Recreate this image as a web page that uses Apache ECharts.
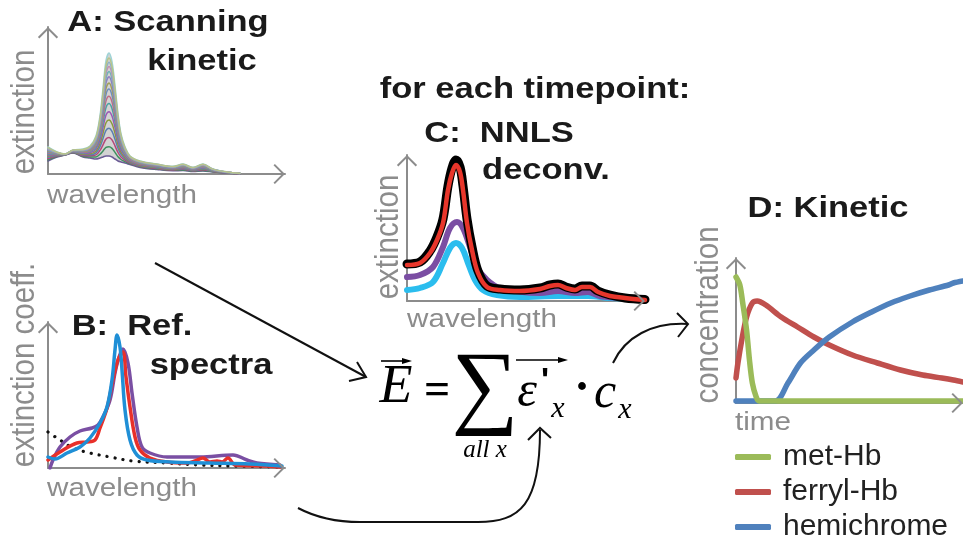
<!DOCTYPE html>
<html><head><meta charset="utf-8">
<script src="https://cdn.jsdelivr.net/npm/echarts@6/dist/echarts.min.js"></script>
<style>html,body{margin:0;padding:0;background:#fff}#c{width:963px;height:543px}</style>
</head><body><div id="c"></div>
<script>
// ---------- A: scanning kinetic (wavelength nm, extinction) ----------
const wlA = [300,318,334,350,370,384,396,404,410,416,422,428,434,440,446,454,464,484,518,550,570,590,610,630,658,684];
const scanA = [
 [13,17,19,21,17,16,15,16,17,18,18,17,15,13,12,11,9.5,6.6,4.5,3.3,3.5,2.5,3,2,1,0],
 [14.3,17.5,19.1,21.3,17.7,17.1,17.1,19.8,23.1,26.6,27.3,25.6,21.6,17.2,14.5,12.4,10.3,7.2,5.0,3.7,4.1,2.9,3.6,2.3,1.1,0.1],
 [15.5,17.9,19.2,21.5,18.4,18.2,19.1,23.6,29.2,35.1,36.5,34.1,28.1,21.5,17.0,13.9,11.0,7.8,5.5,4.1,4.7,3.2,4.3,2.5,1.2,0.1],
 [16.8,18.4,19.3,21.8,19.2,19.2,21.2,27.3,35.4,43.7,45.8,42.7,34.7,25.7,19.6,15.3,11.8,8.3,6.0,4.5,5.3,3.6,4.9,2.8,1.3,0.2],
 [17.9,18.8,19.4,22.1,19.8,20.2,23.1,30.7,40.8,51.3,54.1,50.3,40.6,29.5,21.8,16.6,12.5,8.8,6.4,4.8,5.8,3.9,5.5,3.1,1.4,0.2],
 [19.0,19.2,19.4,22.3,20.4,21.2,24.9,34.1,46.2,58.9,62.3,57.9,46.4,33.2,24.0,17.9,13.2,9.4,6.9,5.1,6.3,4.3,6.0,3.3,1.4,0.3],
 [20.1,19.6,19.5,22.5,21.1,22.1,26.7,37.4,51.7,66.5,70.5,65.5,52.2,37.0,26.3,19.2,13.8,9.9,7.3,5.5,6.8,4.6,6.6,3.5,1.5,0.4],
 [21.1,19.9,19.6,22.7,21.6,23.0,28.3,40.4,56.4,73.1,77.7,72.1,57.3,40.3,28.2,20.3,14.4,10.3,7.7,5.8,7.3,4.9,7.1,3.7,1.6,0.4],
 [22.1,20.3,19.7,23.0,22.2,23.8,30.0,43.3,61.2,79.8,85.0,78.8,62.5,43.6,30.2,21.4,15.0,10.8,8.1,6.1,7.7,5.2,7.6,4.0,1.7,0.5],
 [22.9,20.6,19.7,23.1,22.7,24.5,31.3,45.8,65.3,85.5,91.1,84.5,66.8,46.4,31.9,22.4,15.5,11.1,8.4,6.4,8.1,5.4,8.0,4.1,1.7,0.5],
 [23.8,20.9,19.8,23.3,23.2,25.2,32.7,48.3,69.4,91.2,97.3,90.2,71.2,49.2,33.6,23.3,16.0,11.5,8.7,6.6,8.5,5.7,8.4,4.3,1.8,0.5],
 [24.5,21.1,19.8,23.5,23.6,25.8,33.9,50.4,72.8,95.9,102.5,94.9,74.9,51.5,35.0,24.1,16.5,11.8,9.0,6.8,8.8,5.9,8.7,4.5,1.8,0.6],
 [25.2,21.4,19.9,23.6,24.0,26.4,35.0,52.5,76.2,100.7,107.6,99.7,78.5,53.9,36.4,24.9,16.9,12.2,9.3,7.0,9.2,6.1,9.1,4.6,1.9,0.6],
 [25.7,21.6,19.9,23.7,24.3,26.9,35.9,54.2,78.9,104.5,111.7,103.5,81.4,55.8,37.5,25.6,17.2,12.4,9.5,7.2,9.4,6.2,9.4,4.7,1.9,0.6],
 [26.3,21.8,20.0,23.9,24.6,27.4,36.9,55.9,81.6,108.3,115.9,107.3,84.4,57.7,38.6,26.2,17.6,12.7,9.7,7.4,9.7,6.4,9.7,4.9,2.0,0.7],
 [27,22,20,24,25,28,38,58,85,113,121,112,88,60,40,27,18,13,10,7.6,10,6.6,10,5,2,0.7]
];
const scanColors = ['#6b5b95','#3f8f5f','#b5477a','#5a7fb0','#8a9a3c','#9b59b6','#4aa3a3','#c06c84','#6c8ebf','#a0a05a','#8e7cc3','#6fb3b8','#c58fb0','#8fb0c8','#b8c48a','#9fd3d6'];

// ---------- B: reference spectra ----------
const refBlueX = [300,314,338,364,384,404,418,428,434,438,444,448,454,464,478,498,544,624,704,768];
const refBlueY = [11,9,15,21,30,45,61,88,118,133,121,98,58,28,13,8,6,5,4,2];
const refRedX = [300,324,358,378,394,404,418,430,440,450,456,464,474,484,504,538,578,594,610,624,638,648,660,674,738,764];
const refRedY = [8,16,25,26,28,40,60,88,108,116,91,61,31,18,10,6,5,7,10,6,7,6,10,3,2,1];
const refPurpleX = [304,310,324,344,364,388,400,410,424,434,442,450,460,468,478,488,504,538,604,670,698,718,764];
const refPurpleY = [0,8,21,31,37,40,43,51,68,95,111,119,105,75,41,21,15,11,11,13,8,5,3];
const refDotX = [300,324,350,384,424,470,538,604,670,764];
const refDotY = [36,28,20,15,11,7,5,3,2,1];

// ---------- C: NNLS deconvolution of one timepoint ----------
const fitX = [300,326,346,360,372,382,390,398,406,412,420,430,442,460,486,526,566,586,602,618,636,650,666,682,706,736,776];
const measuredY = [37,39,50,64,82,115,133,141,134,115,82,54,30,15,12,11,13,16,17,14,12,15,15,10,6,3,1.5];
const fitY = [36,38,48,61,78,111,128,136,129,111,78,51,28,14,11,10,12,15,16,13,11,14,14,9,5,3,1];
const compPurpleX = [300,326,352,372,386,400,412,426,440,460,486,566,602,636,662,686,726,776];
const compPurpleY = [24,26,34,54,73,79,73,54,34,21,13,8,10,8,9,5,3,1];
const compCyanX = [300,326,352,372,386,398,410,422,436,452,480,526,602,662,706,776];
const compCyanY = [11,13,19,38,53,58,53,38,21,11,6,4,5,5,3,2];

// ---------- D: kinetic ----------
const metT = [0,4,7,11,14,17,21,24,64,236];
const metC = [126,118,100,73,43,20,6,2,2,2];
const ferrylT = [0,2,6,11,17,22,31,47,64,81,97,121,147,171,194,214,226,236];
const ferrylC = [25,40,63,86,100,102,98,86,76,66,58,48,40,33,28,25,23,21];
const hemiT = [0,41,54,67,81,97,121,141,161,181,201,221,226,236];
const hemiC = [2,2,20,40,53,66,81,91,100,107,113,118,120,122];
const legendNames = ['met-Hb','ferryl-Hb','hemichrome'];

// ---------- build ----------
const GRAY = '#8c8c8c';
const CHEV = 'path://M10,0L20,10L18.6,11.4L10,2.8L1.4,11.4L0,10Z';
function axis(gi, min, max){
  return {gridIndex:gi, type:'value', min:min, max:max, z:3,
    axisLine:{show:true, onZero:false, symbol:['none',CHEV], symbolSize:[22,11.5], symbolOffset:[0,-5.75],
      lineStyle:{color:GRAY, width:2}},
    axisTick:{show:false}, axisLabel:{show:false}, splitLine:{show:false}};
}
function pairs(xs, ys){ return xs.map((x,i)=>[x, ys[i]]); }
function line(name, gi, xs, ys, color, width, extra){
  return Object.assign({type:'line', name:name, xAxisIndex:gi, yAxisIndex:gi, data:pairs(xs,ys),
    showSymbol:false, symbol:'none', smooth:0.35, silent:true, animation:false,
    lineStyle:{color:color, width:width, cap:'round', join:'round'}, itemStyle:{color:color}}, extra||{});
}
const series = [];
// A
series.push(line('scanTop', 0, wlA, scanA[scanA.length-1], scanColors[15], 1.6, {areaStyle:{color:'rgba(130,130,130,0.5)'}}));
series.push(line('scanBottom', 0, wlA, scanA[0], scanColors[0], 1.6, {areaStyle:{color:'#ffffff', opacity:1}}));
for (let k=1;k<scanA.length-1;k++) series.push(line('scan'+k, 0, wlA, scanA[k], scanColors[k], 1.5));
// B
series.push(line('dotted', 1, refDotX, refDotY, '#111', 3.2, {lineStyle:{color:'#111', width:3.2, type:[0.1,8], cap:'round'}}));
series.push(line('refPurple', 1, refPurpleX, refPurpleY, '#7a4fa3', 3.5));
series.push(line('refRed', 1, refRedX, refRedY, '#e8302a', 3.5));
series.push(line('refBlue', 1, refBlueX, refBlueY, '#1f8fd6', 3.5));
// C
series.push(line('compCyan', 2, compCyanX, compCyanY, '#2bbdee', 6));
series.push(line('compPurple', 2, compPurpleX, compPurpleY, '#7b4ea3', 6));
series.push(line('measured', 2, fitX, measuredY, '#000000', 9));
series.push(line('fit', 2, fitX, fitY, '#e8362b', 4.5));
// D
series.push(line('ferryl-Hb', 3, ferrylT, ferrylC, '#c0504d', 5.5, {smooth:0.3}));
series.push(line('hemichrome', 3, hemiT, hemiC, '#4f81bd', 5.5, {smooth:0.3}));
series.push(line('met-Hb', 3, metT, metC, '#9bbb59', 5.5, {smooth:0.3}));

function txt(s, x, y, font, fill, extra){
  return Object.assign({type:'text', x:x, y:y, silent:true,
    style:{text:s, x:0, y:0, font:font, fill:fill, align:'center', verticalAlign:'middle'}}, extra||{});
}
const BOLD = 'bold 30px "Liberation Sans"';
const DARK = '#1a1a1a';
const LBL = '26px "Liberation Sans"';
const VLBL = '29.5px "Liberation Sans"';
const SERIF = '"Liberation Serif"';
const graphics = [
  txt('A: Scanning', 168, 23, BOLD, DARK, {scaleX:1.15}),
  txt('kinetic', 202, 62, BOLD, DARK, {scaleX:1.15}),
  txt('B:  Ref.', 132, 327, BOLD, DARK, {scaleX:1.15}),
  txt('spectra', 211, 366, BOLD, DARK, {scaleX:1.15}),
  txt('for each timepoint:', 535, 90, BOLD, DARK, {scaleX:1.15}),
  txt('C:  NNLS', 499, 134, BOLD, DARK, {scaleX:1.15}),
  txt('deconv.', 546, 171, BOLD, DARK, {scaleX:1.15}),
  txt('D: Kinetic', 828, 209, BOLD, DARK, {scaleX:1.15}),
  txt('extinction', 25, 112, VLBL, GRAY, {rotation:Math.PI/2, scaleY:1.1}),
  txt('wavelength', 122, 196, LBL, GRAY, {scaleX:1.14}),
  txt('extinction coeff.', 25, 365, VLBL, GRAY, {rotation:Math.PI/2, scaleY:1.1}),
  txt('wavelength', 122, 489, LBL, GRAY, {scaleX:1.14}),
  txt('extinction', 389, 237, VLBL, GRAY, {rotation:Math.PI/2, scaleY:1.1}),
  txt('wavelength', 482, 320, LBL, GRAY, {scaleX:1.14}),
  txt('concentration', 709, 315, VLBL, GRAY, {rotation:Math.PI/2, scaleY:1.1}),
  txt('time', 763, 423, LBL, GRAY, {scaleX:1.14}),
  // formula
  txt('E', 396, 388, 'italic 54px '+SERIF, '#000'),
  txt('=', 437, 392, 'bold 46px '+SERIF, '#000'),
  txt('\u2211', 485, 391, '94px '+SERIF, '#000'),
  txt('all x', 485, 450, 'italic 25px '+SERIF, '#000'),
  txt('\u03B5', 527, 393, 'italic 50px '+SERIF, '#000'),
  txt("'", 545, 382, 'bold 34px "Liberation Sans"', '#000'),
  txt('x', 558, 409, 'italic 30px '+SERIF, '#000'),
  txt('\u00B7', 582, 390, 'bold 48px '+SERIF, '#000'),
  txt('c', 605, 394, 'italic 50px '+SERIF, '#000'),
  txt('x', 625, 410, 'italic 30px '+SERIF, '#000'),
  {type:'line', silent:true, shape:{x1:381,y1:361,x2:405,y2:361}, style:{stroke:'#000', lineWidth:1.6}},
  {type:'polygon', silent:true, shape:{points:[[412,361],[402,358],[402,364]]}, style:{fill:'#000'}},
  {type:'line', silent:true, shape:{x1:516,y1:360,x2:561,y2:360}, style:{stroke:'#000', lineWidth:1.6}},
  {type:'polygon', silent:true, shape:{points:[[568,360],[558,357],[558,363]]}, style:{fill:'#000'}},
  // arrows
  {type:'line', silent:true, shape:{x1:155,y1:263,x2:366,y2:377}, style:{stroke:'#111', lineWidth:2}},
  {type:'polyline', silent:true, shape:{points:[[349,381],[366,377],[357,362]]}, style:{stroke:'#111', lineWidth:2, fill:null}},
  {type:'bezierCurve', silent:true, shape:{x1:298,y1:508,cpx1:315,cpy1:517,cpx2:335,cpy2:522,x2:360,y2:522}, style:{stroke:'#111', lineWidth:2, fill:null}},
  {type:'line', silent:true, shape:{x1:360,y1:522,x2:478,y2:522}, style:{stroke:'#111', lineWidth:2}},
  {type:'bezierCurve', silent:true, shape:{x1:478,y1:522,cpx1:520,cpy1:522,cpx2:540,cpy2:505,x2:540,y2:430}, style:{stroke:'#111', lineWidth:2, fill:null}},
  {type:'polyline', silent:true, shape:{points:[[528,440],[540,428],[551,438]]}, style:{stroke:'#111', lineWidth:2, fill:null}},
  {type:'bezierCurve', silent:true, shape:{x1:613,y1:363,cpx1:625,cpy1:337,cpx2:652,cpy2:322,x2:688,y2:324}, style:{stroke:'#111', lineWidth:2, fill:null}},
  {type:'polyline', silent:true, shape:{points:[[677,313],[688,324],[678,337]]}, style:{stroke:'#111', lineWidth:2, fill:null}}
];

const chart = echarts.init(document.getElementById('c'), null, {renderer:'canvas'});
chart.setOption({
  backgroundColor:'#ffffff',
  animation:false,
  grid:[
    {left:48, top:27, width:237, height:147},
    {left:48, top:322, width:237, height:146},
    {left:407, top:155, width:238, height:146},
    {left:736, top:258, width:236, height:145}
  ],
  xAxis:[axis(0,300,774), axis(1,300,774), axis(2,300,776), axis(3,0,236)],
  yAxis:[axis(0,0,147), axis(1,0,146), axis(2,0,146), axis(3,0,145)],
  legend:{data:legendNames, orient:'vertical', left:735, top:442, height:130, padding:0, itemGap:5, itemWidth:36, itemHeight:6,
    icon:'roundRect', selectedMode:false,
    textStyle:{fontSize:30, fontFamily:'Liberation Sans', color:'#222', padding:[0,0,0,7]}},
  series:series,
  graphic:{elements:graphics}
});
</script></body></html>
